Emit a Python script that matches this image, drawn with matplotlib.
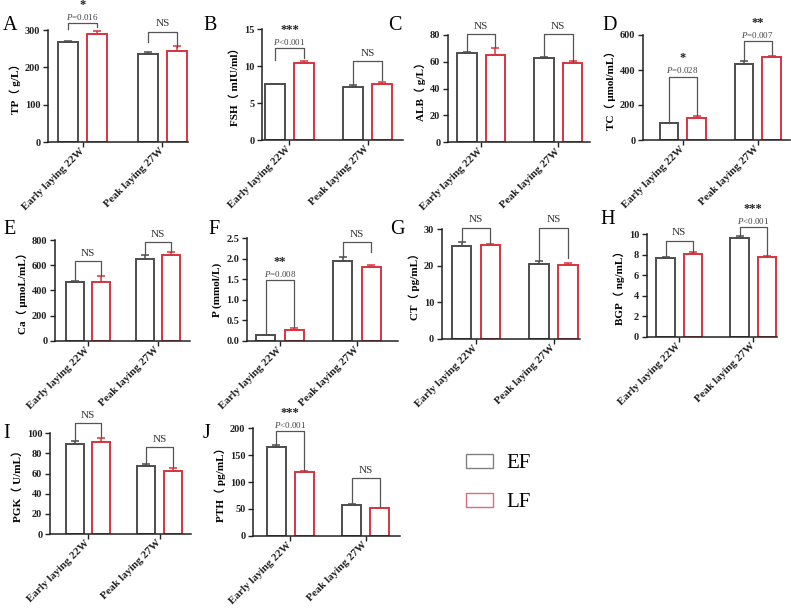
import matplotlib
matplotlib.use('Agg')
import matplotlib.pyplot as plt
from matplotlib.patches import Patch

plt.rcParams['font.family'] = ['Liberation Serif', 'Noto Sans CJK SC', 'DejaVu Sans']
plt.rcParams['mathtext.fontset'] = 'custom'
plt.rcParams['mathtext.it'] = 'Liberation Serif:italic'
plt.rcParams['mathtext.rm'] = 'Liberation Serif'

W, H = 791, 615

# ---------------- data ----------------
groups = ['Early laying 22W', 'Peak laying 27W']
series = ['EF', 'LF']

tp_ef, tp_lf = [267, 237], [289, 245]
tp_ef_err, tp_lf_err = [3.5, 5], [7, 11]

fsh_ef, fsh_lf = [7.55, 7.15], [10.4, 7.55]
fsh_ef_err, fsh_lf_err = [0.1, 0.3], [0.35, 0.35]

alb_ef, alb_lf = [66.4, 62.6], [64.9, 58.9]
alb_ef_err, alb_lf_err = [0.7, 1.2], [5.5, 1.8]

tc_ef, tc_lf = [95, 434], [125, 476]
tc_ef_err, tc_lf_err = [3, 15], [13, 6]

ca_ef, ca_lf = [468, 652], [463, 681]
ca_ef_err, ca_lf_err = [5, 25], [52, 20]

p_ef, p_lf = [0.13, 1.95], [0.25, 1.79]
p_ef_err, p_lf_err = [0.01, 0.1], [0.05, 0.07]

ct_ef, ct_lf = [25.4, 20.4], [25.6, 20.3]
ct_ef_err, ct_lf_err = [1.0, 0.8], [0.3, 0.4]

bgp_ef, bgp_lf = [7.65, 9.6], [8.1, 7.75]
bgp_ef_err, bgp_lf_err = [0.15, 0.22], [0.18, 0.12]

pgk_ef, pgk_lf = [89, 68], [91.5, 63]
pgk_ef_err, pgk_lf_err = [3, 2], [3.5, 3]

pth_ef, pth_lf = [164.5, 57], [118, 51]
pth_ef_err, pth_lf_err = [3.5, 2.5], [2, 1.5]

panel_letters = ['A', 'B', 'C', 'D', 'E', 'F', 'G', 'H', 'I', 'J']
ylabels = ['TP（ g/L）', 'FSH（ mIU/ml）', 'ALB（ g/L）', 'TC（ μmol/mL）',
           'Ca（ μmoL/mL）', 'P (mmol/L)', 'CT（ pg/mL）', 'BGP（ ng/mL）',
           'PGK（ U/mL）', 'PTH（ pg/mL）']
yticks = [[0, 100, 200, 300], [0, 5, 10, 15], [0, 20, 40, 60, 80],
          [0, 200, 400, 600], [0, 200, 400, 600, 800],
          [0.0, 0.5, 1.0, 1.5, 2.0, 2.5], [0, 10, 20, 30],
          [0, 2, 4, 6, 8, 10], [0, 20, 40, 60, 80, 100], [0, 50, 100, 150, 200]]
ytick_fmt = ['{:.0f}'] * 5 + ['{:.1f}'] + ['{:.0f}'] * 4

# significance: (stars, p-text) per group
sig = [
    [('*', '$P$=0.016'), ('NS', None)],
    [('***', '$P$<0.001'), ('NS', None)],
    [('NS', None), ('NS', None)],
    [('*', '$P$=0.028'), ('**', '$P$=0.007')],
    [('NS', None), ('NS', None)],
    [('**', '$P$=0.008'), ('NS', None)],
    [('NS', None), ('NS', None)],
    [('NS', None), ('***', '$P$<0.001')],
    [('NS', None), ('NS', None)],
    [('***', '$P$<0.001'), ('NS', None)],
]

values = [(tp_ef, tp_lf, tp_ef_err, tp_lf_err), (fsh_ef, fsh_lf, fsh_ef_err, fsh_lf_err),
          (alb_ef, alb_lf, alb_ef_err, alb_lf_err), (tc_ef, tc_lf, tc_ef_err, tc_lf_err),
          (ca_ef, ca_lf, ca_ef_err, ca_lf_err), (p_ef, p_lf, p_ef_err, p_lf_err),
          (ct_ef, ct_lf, ct_ef_err, ct_lf_err), (bgp_ef, bgp_lf, bgp_ef_err, bgp_lf_err),
          (pgk_ef, pgk_lf, pgk_ef_err, pgk_lf_err), (pth_ef, pth_lf, pth_ef_err, pth_lf_err)]

# ---------------- layout (pixels) ----------------
# left, right, top, bottom of each axes in pixels
boxes = [(48, 188, 30, 142), (262, 403, 29.3, 140), (448, 590, 35, 142.3), (643, 790, 35, 140),
         (55, 190, 240, 340.7), (246.7, 398, 238.3, 340.7), (441.7, 580, 229, 339),
         (646.7, 777, 234.3, 336.7), (50, 191, 433.3, 534), (253, 400, 428.3, 535.7)]
xlims = [(-0.435, 1.32), (-0.35, 1.45), (-0.43, 1.41), (-0.53, 1.43), (-0.47, 1.46),
         (-0.43, 1.53), (-0.44, 1.34), (-0.44, 1.32), (-0.53, 1.44), (-0.49, 1.45)]
# bracket (top, left leg end, right leg end) per group, data units
brackets = [
    [(319, 302, 309), (295, 268, 254)],
    [(12.4, 10.9, 11.1), (10.7, 7.45, 8.1)],
    [(80.5, 67.5, 71.3), (80.5, 64.3, 60.1)],
    [(362, 100, 143), (566, 450, 486)],
    [(633, 477, 516), (781, 681, 702)],
    [(1.48, 0.18, 0.33), (2.4, 2.05, 2.17)],
    [(30.4, 26.4, 26.1), (30.4, 21.5, 22.0)],
    [(9.38, 7.8, 8.3), (10.7, 9.84, 7.88)],
    [(110, 92.4, 96), (86, 70.2, 66.9)],
    [(195, 169, 121), (107, 59.6, 52.8)],
]
letter_pos = [(3, 25), (203, 25), (388, 25), (602, 25), (3, 229), (208, 229),
              (390, 229), (600, 219), (3, 433), (203, 433)]

EF_COL = '#4d4d4d'
LF_COL = '#d8343f'
BR_COL = '#555555'
OFF, BW = 0.185, 0.25

fig = plt.figure(figsize=(W / 100, H / 100), dpi=100)

for i in range(10):
    l, r, t, b = boxes[i]
    ax = fig.add_axes([l / W, 1 - b / H, (r - l) / W, (b - t) / H])
    ef, lf, efe, lfe = values[i]
    xs = list(range(len(groups)))
    x_ef = [x - OFF for x in xs]
    x_lf = [x + OFF for x in xs]
    ax.bar(x_ef, ef, width=BW, facecolor='white', edgecolor=EF_COL, linewidth=1.4, zorder=2)
    ax.bar(x_lf, lf, width=BW, facecolor='white', edgecolor=LF_COL, linewidth=1.4, zorder=2)
    ax.errorbar(x_ef, ef, yerr=[[0] * len(ef), efe], fmt='none', ecolor=EF_COL,
                elinewidth=1.1, capsize=3, capthick=1.1, zorder=3)
    ax.errorbar(x_lf, lf, yerr=[[0] * len(lf), lfe], fmt='none', ecolor=LF_COL,
                elinewidth=1.1, capsize=3, capthick=1.1, zorder=3)
    yt = yticks[i]
    ax.set_ylim(0, yt[-1])
    ax.set_xlim(*xlims[i])
    ax.set_yticks(yt)
    ax.set_yticklabels([ytick_fmt[i].format(v) for v in yt], fontsize=7.5, fontweight='bold')
    ax.set_xticks(xs)
    ax.set_xticklabels(groups, rotation=45, ha='right', va='center', rotation_mode='anchor',
                       fontsize=8, fontweight='bold')
    for s in ['top', 'right']:
        ax.spines[s].set_visible(False)
    for s in ['left', 'bottom']:
        ax.spines[s].set_linewidth(1.1)
        ax.spines[s].set_color('#222222')
    ax.tick_params(axis='both', length=3.5, width=1.0, pad=2, colors='#222222')
    ax.set_ylabel(ylabels[i], fontsize=8, fontweight='bold', labelpad=3)

    for g in range(len(groups)):
        top, le, re = brackets[i][g]
        x0, x1 = x_ef[g], x_lf[g]
        ax.plot([x0, x0, x1, x1], [le, top, top, re], color=BR_COL, lw=0.9,
                clip_on=False, zorder=4)
        stars, ptxt = sig[i][g]
        xc = (x0 + x1) / 2
        if ptxt is None:
            ax.annotate(stars, (xc, top), xytext=(0, 2.5), textcoords='offset points',
                        ha='center', va='bottom', fontsize=8, color='#333333',
                        annotation_clip=False)
        else:
            ax.annotate(ptxt, (xc, top), xytext=(0, 1.0), textcoords='offset points',
                        ha='center', va='bottom', fontsize=6.5, color='#444444',
                        annotation_clip=False)
            ax.annotate(stars, (xc, top), xytext=(0, 8.9), textcoords='offset points',
                        ha='center', va='bottom', fontsize=9, fontweight='bold',
                        color='#222222', annotation_clip=False)

    lx, ly = letter_pos[i]
    fig.text(lx / W, 1 - ly / H, panel_letters[i], fontsize=14.5, ha='left', va='center')

handles = [Patch(facecolor='white', edgecolor='#808080', linewidth=1.0),
           Patch(facecolor='white', edgecolor='#e06a78', linewidth=1.0)]
fig.legend(handles, series, loc='upper left', bbox_to_anchor=(466 / W, 1 - 454 / H),
           frameon=False, fontsize=15, handlelength=1.3, handleheight=0.65,
           labelspacing=0.95, handletextpad=0.65, borderpad=0, borderaxespad=0)

fig.savefig('out.png', dpi=100)
